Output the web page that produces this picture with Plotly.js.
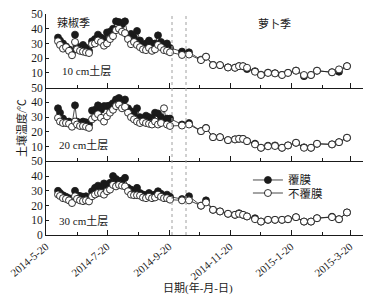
<!DOCTYPE html>
<html>
<head>
<meta charset="utf-8">
<script src="https://cdn.plot.ly/plotly-3.0.1.min.js"></script>
<style>html,body{margin:0;padding:0;background:#fff;}#chart{width:375px;height:304px;}</style>
</head>
<body>
<div id="chart"></div>
<script>
// Sampling dates (pepper season then radish season)
const dates = [
  '2014-06-01','2014-06-03','2014-06-06','2014-06-09','2014-06-12','2014-06-15','2014-06-18','2014-06-20',
  '2014-06-23','2014-06-26','2014-06-29','2014-07-02','2014-07-05','2014-07-08','2014-07-11','2014-07-14',
  '2014-07-17','2014-07-20','2014-07-23','2014-07-26','2014-07-29','2014-08-01','2014-08-04','2014-08-07',
  '2014-08-10','2014-08-13','2014-08-16','2014-08-19','2014-08-22','2014-08-25','2014-08-28','2014-08-31',
  '2014-09-03','2014-09-06','2014-09-09','2014-09-12','2014-09-15','2014-09-18','2014-09-21',
  '2014-10-03','2014-10-10','2014-10-22','2014-10-27','2014-11-03','2014-11-10','2014-11-18','2014-11-25',
  '2014-11-29','2014-12-03','2014-12-07','2014-12-15','2014-12-21','2014-12-28','2015-01-04','2015-01-11',
  '2015-01-17','2015-01-25','2015-02-02','2015-02-09','2015-02-15','2015-03-02','2015-03-09','2015-03-17'
];

// 10 cm layer
const film10 = [34,32,30,28,26,24,36,28,27,29,27,25,31.5,33,36,34,33,37.5,38,40,45,44.5,43,45,35,36.5,34,38.5,32,29,30,32,30,30,35.5,31,28,30,27,
  24.5,24,19,21,15.5,15.3,13.8,13.6,14.6,14.5,12.6,11.2,8.8,10.2,9.8,8.7,10.1,11.6,7.8,8.6,11.5,10.5,10.8,14.6];
const bare10 = [31.5,29,26.5,27.5,25,22,31,26,25,24.5,24,23.5,29.5,30,32,31,28.5,30,33,35,39,40,38,37,33,29.5,31,29,27.5,26,25.5,27,25,26,29,27.5,25.5,25,24,
  22.2,22.5,18.7,21,15.3,15.3,13.7,13.5,14.6,14.6,13.5,10.8,8.6,10,9.7,8.6,10,11.5,8.6,8.6,11.5,10.4,12.4,14.6];

// 20 cm layer
const film20 = [36,33,29,27,27,25,38,27,26,27,26.5,25,34.5,35,38,35,37.5,37.5,38,39.5,42,43,40,42,36,34,32.5,36,30,28.5,31,30,29,33,32.5,30,28,29,29,
  25,26,20.5,22.7,16.4,16.4,14.4,14.9,15.3,15.2,13.7,12,9.2,10.6,10.8,9.2,10.8,12.6,9.5,9.2,11.9,11.5,13,16];
const bare20 = [29.5,27,26,26,25.5,23.5,27,25,24,24,23.5,22.7,28.5,30,32,29.5,27,30.5,33,35,37.5,38.5,36,37,33,30,28.5,27,26,27,26,25.5,25,27,25,26,36,25,24,
  24.3,25,20.5,22.5,16.4,16.4,14.4,14.9,15.3,15.2,13.7,11.5,9.2,10.2,10.4,9.2,10.8,12.6,9.2,9.2,11.9,11.5,13,16];

// 30 cm layer
const film30 = [30,28.5,27,26,25,24,30,27,26.5,26,26.3,25,29.7,32,33.5,32,35,34,35.4,40,38,36.5,37,38.8,32,30.8,30,32,28.5,27.5,27,28.5,27,27.5,29.7,28,26.5,27.4,26,
  24.4,26.3,19.9,23.5,17.1,16,14.4,13.7,14.8,13.7,12.6,11.4,9.1,10.3,10.3,10.3,10.7,12.1,9.1,9.1,11.4,12.4,10.7,15.3];
const bare30 = [27.5,26.5,25,24.5,23.5,21.7,26.3,24.5,23.5,23,23.5,22.8,26.3,27.5,28.5,28.5,27.4,29.7,30.8,34,33,34,33.5,33,29.7,27.4,27,27,26.7,25.5,25,26,25,25.5,27.4,26,25,25,24,
  23.5,23.5,19.9,22.1,17.1,16,14.4,13.7,14.4,13.7,12.6,10.7,9.1,10.3,10.3,10.3,10.7,12.1,9.1,9.1,11.4,12.1,10.7,15.3];

// Axis ticks and labels
const xTickVals = ['2014-05-20','2014-07-20','2014-09-20','2014-11-20','2015-01-20','2015-03-20'];
const xTickText = ['2014-5-20','2014-7-20','2014-9-20','2014-11-20','2015-1-20','2015-3-20'];
const xMinorVals = ['2014-06-20','2014-08-20','2014-10-20','2014-12-20','2015-02-20'];
const xRange = ['2014-05-20','2015-04-02'];
const seasonBreaks = ['2014-09-23','2014-10-07'];
const seriesNames = ['覆膜','不覆膜'];
const layerLabels = ['10 cm土层','20 cm土层','30 cm土层'];
const seasonLabels = ['辣椒季','萝卜季'];

const FONT = 'Liberation Serif, "Noto Sans CJK SC", serif';
const INK = '#1a1a1a';

function filmTrace(y, xa, ya, show) {
  return {x: dates, y: y, xaxis: xa, yaxis: ya, name: seriesNames[0], showlegend: show, legend: 'legend',
    mode: 'lines+markers', line: {color: INK, width: 0.8},
    marker: {size: 7, color: INK, line: {color: INK, width: 0.8}}};
}
function bareTrace(y, xa, ya, show) {
  return {x: dates, y: y, xaxis: xa, yaxis: ya, name: seriesNames[1], showlegend: show, legend: 'legend2',
    mode: 'lines+markers', line: {color: INK, width: 0.8},
    marker: {size: 7, color: '#fff', line: {color: INK, width: 0.9}}};
}

const data = [
  filmTrace(film10, 'x', 'y', true), bareTrace(bare10, 'x', 'y', true),
  filmTrace(film20, 'x2', 'y2', false), bareTrace(bare20, 'x2', 'y2', false),
  filmTrace(film30, 'x3', 'y3', false), bareTrace(bare30, 'x3', 'y3', false)
];

function xAxis(anchor, labels) {
  return {type: 'date', range: xRange, anchor: anchor, matches: anchor === 'y' ? undefined : 'x',
    tickmode: 'array', tickvals: xTickVals, ticktext: xTickText, showticklabels: labels,
    tickangle: -40, ticks: 'inside', ticklen: 5, tickwidth: 1, tickcolor: INK,
    minor: {tickmode: 'array', tickvals: xMinorVals, ticks: 'inside', ticklen: 3, tickwidth: 1, tickcolor: INK, showgrid: false},
    showline: true, linecolor: INK, linewidth: 1, showgrid: false, zeroline: false,
    tickfont: {family: FONT, size: 11, color: INK}};
}
function yAxis(dom, anchor, vals) {
  return {domain: dom, anchor: anchor, range: [0, 50], tickmode: 'array', tickvals: vals,
    ticks: 'inside', ticklen: 3, tickcolor: INK, showline: true, linecolor: INK, linewidth: 1,
    showgrid: false, zeroline: false, tickfont: {family: FONT, size: 11.5, color: INK}};
}

const annFont = {family: FONT, size: 11, color: INK};
const legFont = {family: FONT, size: 11.5, color: INK};
const layout = {
  width: 375, height: 304,
  margin: {l: 46, r: 12, t: 14, b: 69},
  paper_bgcolor: '#fff', plot_bgcolor: '#fff',
  font: {family: FONT, color: INK},
  xaxis: xAxis('y', false),
  xaxis2: xAxis('y2', false),
  xaxis3: xAxis('y3', true),
  yaxis: yAxis([2/3, 1], 'x', [10, 20, 30, 40, 50]),
  yaxis2: yAxis([1/3, 2/3], 'x2', [10, 20, 30, 40, 50]),
  yaxis3: yAxis([0, 1/3], 'x3', [0, 10, 20, 30, 40, 50]),
  showlegend: true,
  legend: {x: 0.637, y: 0.249, xanchor: 'left', yanchor: 'middle', bgcolor: 'rgba(0,0,0,0)', font: legFont, itemwidth: 30},
  legend2: {x: 0.637, y: 0.190, xanchor: 'left', yanchor: 'middle', bgcolor: 'rgba(0,0,0,0)', font: legFont, itemwidth: 30},
  shapes: seasonBreaks.map(d => ({type: 'line', xref: 'x', yref: 'paper', x0: d, x1: d, y0: 0, y1: 1,
    line: {color: '#a0a0a0', width: 1, dash: 'dot'}})),
  annotations: [
    {text: seasonLabels[0], xref: 'paper', yref: 'paper', x: 0.028, y: 0.962, xanchor: 'left', yanchor: 'middle', showarrow: false, font: annFont},
    {text: seasonLabels[1], xref: 'paper', yref: 'paper', x: 0.722, y: 0.957, xanchor: 'center', yanchor: 'middle', showarrow: false, font: annFont},
    {text: layerLabels[0], xref: 'paper', yref: 'paper', x: 0.044, y: 0.742, xanchor: 'left', yanchor: 'middle', showarrow: false, font: annFont},
    {text: layerLabels[1], xref: 'paper', yref: 'paper', x: 0.035, y: 0.407, xanchor: 'left', yanchor: 'middle', showarrow: false, font: annFont},
    {text: layerLabels[2], xref: 'paper', yref: 'paper', x: 0.035, y: 0.065, xanchor: 'left', yanchor: 'middle', showarrow: false, font: annFont},
    {text: '土壤温度/℃', xref: 'paper', yref: 'paper', x: -0.079, y: 0.484, xanchor: 'center', yanchor: 'middle', textangle: -90, showarrow: false, font: annFont},
    {text: '日期(年-月-日)', xref: 'paper', yref: 'paper', x: 0.479, y: -0.24, xanchor: 'center', yanchor: 'middle', showarrow: false, font: annFont}
  ]
};

Plotly.newPlot('chart', data, layout, {displayModeBar: false, staticPlot: true});
</script>
</body>
</html>
